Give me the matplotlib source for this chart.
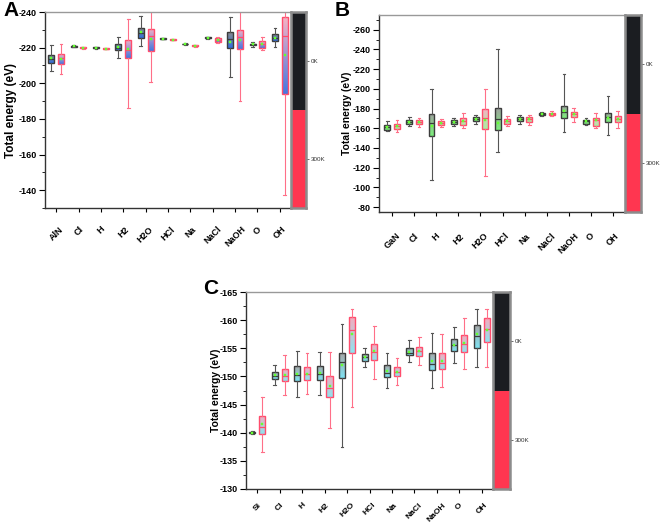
import numpy as np
import matplotlib
matplotlib.use("Agg")
import matplotlib.pyplot as plt
from matplotlib.colors import to_rgba
from matplotlib.ticker import MultipleLocator

plt.rcParams['font.family'] = ['Liberation Sans', 'DejaVu Sans']
plt.rcParams['axes.unicode_minus'] = False

# ---------------- data: (whisker low, Q1, median, Q3, whisker high, mean) ----------------
cats_A = ["AlN", "Cl", "H", "H2", "H2O", "HCl", "Na", "NaCl", "NaOH", "O", "OH"]
cats_B = ["GaN", "Cl", "H", "H2", "H2O", "HCl", "Na", "NaCl", "NaOH", "O", "OH"]
cats_C = ["Si", "Cl", "H", "H2", "H2O", "HCl", "Na", "NaCl", "NaOH", "O", "OH"]

A_0K = [(-221.3, -215.7, -213.9, -211.5, -207.0, -214.0),
        (-221.3, -221.0, -220.8, -220.6, -220.3, -220.8),
        (-220.5, -220.2, -220.0, -219.8, -219.5, -220.0),
        (-226.0, -221.9, -220.0, -218.5, -214.4, -220.5),
        (-238.0, -231.2, -228.0, -225.6, -221.0, -228.5),
        (-225.6, -225.3, -225.1, -224.9, -224.6, -225.1),
        (-222.4, -222.2, -222.0, -221.8, -221.6, -222.0),
        (-225.9, -225.7, -225.5, -225.3, -225.1, -225.5),
        (-237.2, -228.8, -225.0, -219.9, -203.6, -223.2),
        (-223.0, -222.3, -221.8, -221.2, -220.4, -221.8),
        (-231.3, -227.5, -225.6, -223.6, -220.4, -225.5)]
A_300K = [(-222.3, -216.3, -214.0, -211.0, -205.0, -213.8),
          (-220.3, -220.1, -219.9, -219.7, -219.5, -219.9),
          (-220.0, -219.8, -219.5, -219.2, -219.0, -219.5),
          (-236.0, -224.5, -218.5, -214.3, -186.0, -219.0),
          (-242.0, -230.7, -226.6, -218.2, -200.6, -225.1),
          (-224.9, -224.7, -224.5, -224.3, -224.1, -224.5),
          (-221.4, -221.2, -221.0, -220.8, -220.6, -221.0),
          (-226.0, -225.5, -224.5, -223.4, -222.6, -224.5),
          (-242.0, -229.8, -226.0, -219.0, -190.2, -224.5),
          (-225.7, -223.6, -221.8, -219.9, -218.6, -221.8),
          (-242.0, -237.2, -226.4, -194.0, -137.4, -215.8)]

B_0K = [(-167.0, -163.6, -161.5, -158.5, -156.8, -161.5),
        (-171.4, -168.7, -166.5, -164.3, -162.0, -166.5),
        (-199.8, -174.8, -165.3, -151.7, -107.8, -162.0),
        (-170.4, -168.0, -166.0, -164.6, -162.0, -166.0),
        (-173.7, -171.4, -169.5, -167.0, -164.6, -169.5),
        (-240.4, -180.5, -169.7, -158.5, -135.5, -165.0),
        (-173.7, -171.4, -169.3, -167.0, -164.6, -169.3),
        (-177.0, -176.0, -175.0, -173.7, -172.7, -175.0),
        (-215.3, -182.9, -177.0, -170.4, -156.1, -177.5),
        (-170.4, -168.7, -167.0, -164.6, -163.0, -167.0),
        (-193.0, -175.4, -171.0, -166.0, -153.4, -170.0)]
B_300K = [(-168.7, -164.3, -162.0, -159.2, -155.8, -162.0),
          (-170.4, -168.0, -166.0, -164.3, -161.2, -166.0),
          (-169.7, -167.0, -165.0, -163.0, -161.0, -165.0),
          (-175.4, -170.4, -167.0, -163.6, -160.2, -167.0),
          (-199.8, -179.5, -170.4, -159.2, -111.2, -168.5),
          (-172.7, -169.3, -167.0, -164.6, -162.0, -167.0),
          (-173.7, -171.4, -169.0, -166.3, -163.6, -169.0),
          (-177.8, -176.0, -175.0, -173.0, -172.0, -175.0),
          (-180.5, -177.0, -174.5, -171.4, -166.0, -174.5),
          (-175.4, -170.4, -168.0, -162.6, -160.2, -168.0),
          (-177.8, -172.7, -169.5, -166.0, -160.2, -169.5)]

C_0K = [(-140.3, -140.1, -140.0, -139.9, -139.8, -140.0),
        (-152.0, -150.7, -150.0, -149.5, -148.4, -150.2),
        (-154.5, -151.8, -150.2, -149.2, -146.4, -150.4),
        (-154.4, -151.8, -150.5, -149.3, -146.7, -150.6),
        (-159.4, -154.2, -152.6, -149.8, -137.5, -152.0),
        (-155.1, -153.9, -153.4, -152.8, -151.7, -153.4),
        (-154.2, -152.0, -150.6, -149.9, -147.9, -151.0),
        (-156.4, -155.0, -154.2, -153.8, -152.5, -154.4),
        (-157.7, -154.1, -152.2, -151.1, -148.0, -152.8),
        (-158.8, -156.7, -155.5, -154.5, -152.3, -155.5),
        (-161.9, -159.1, -157.1, -155.1, -151.7, -157.5)]
C_300K = [(-146.4, -142.9, -141.0, -139.7, -136.6, -141.5),
          (-153.8, -151.3, -150.0, -149.2, -146.7, -150.3),
          (-154.1, -151.6, -150.4, -149.3, -146.8, -150.5),
          (-154.4, -150.1, -147.9, -146.3, -140.8, -148.3),
          (-161.9, -160.6, -158.3, -154.2, -144.6, -157.5),
          (-158.9, -155.7, -154.4, -152.9, -149.6, -154.5),
          (-153.2, -151.6, -150.7, -150.0, -148.4, -150.8),
          (-157.0, -155.2, -154.5, -153.6, -152.0, -154.5),
          (-157.6, -154.1, -152.4, -151.3, -148.1, -152.8),
          (-160.3, -157.3, -155.7, -154.4, -151.3, -155.9),
          (-161.9, -160.3, -158.5, -156.1, -151.7, -158.2)]

temps = ["0K", "300K"]

# ---------------- styling ----------------
W, H = 661, 523
fig = plt.figure(figsize=(W / 100, H / 100), dpi=100)


def px_axes(x0, y0, x1, y1):
    return fig.add_axes([x0 / W, 1 - y1 / H, (x1 - x0) / W, (y1 - y0) / H])


def gradient_fill(ax, patch, top_color, bottom_color):
    v = patch.get_path().vertices
    x0, x1 = v[:, 0].min(), v[:, 0].max()
    y0, y1 = v[:, 1].min(), v[:, 1].max()
    c0 = np.array(to_rgba(top_color))
    c1 = np.array(to_rgba(bottom_color))
    t = np.linspace(0, 1, 64)[:, None]
    img = (c0 * (1 - t) + c1 * t)[:, None, :]
    im = ax.imshow(img, extent=(x0, x1, y0, y1), origin='lower', aspect='auto',
                   zorder=1.5, interpolation='bilinear')
    im.set_clip_path(patch)


def draw_panel(rect, cbrect, cats, s0, s1, ylim, xlim, major, minor, fills, letter, letterpos,
               ytfs, xtfs, ylfs, ylx, xpad):
    ax = px_axes(*rect)
    n = len(cats)
    x = np.arange(n)
    styles = [("#3c3c3c", "#555555", "#3c3c3c", fills[0]),
              ("#ff4d6d", "#ff6f88", "#ff4d6d", fills[1])]
    for k, (stats_list, off) in enumerate([(s0, -0.22), (s1, 0.22)]):
        stats = []
        for lo, q1, med, q3, hi, mean in stats_list:
            stats.append(dict(whislo=lo, q1=q1, med=med, q3=q3, whishi=hi, mean=mean, fliers=[]))
        ec, wc, mc, (ctop, cbot) = styles[k]
        bp = ax.bxp(stats, positions=x + off, widths=0.27, patch_artist=True,
                    showmeans=True, showfliers=False, capwidths=0.12,
                    boxprops=dict(edgecolor=ec, facecolor='none', linewidth=1.0, zorder=2),
                    whiskerprops=dict(color=wc, linewidth=0.8),
                    capprops=dict(color=wc, linewidth=0.8),
                    medianprops=dict(color=mc, linewidth=0.9),
                    meanprops=dict(marker='s', markersize=1.8, markerfacecolor='#66ff33',
                                   markeredgecolor='#66ff33', markeredgewidth=0.3, zorder=4))
        for p in bp['boxes']:
            gradient_fill(ax, p, ctop, cbot)
    ax.set_xlim(*xlim)
    ax.set_ylim(*ylim)
    ax.set_xticks(x)
    ax.set_xticklabels(cats, rotation=45, ha='center', va='top', fontweight='bold', fontsize=xtfs)
    ax.yaxis.set_major_locator(MultipleLocator(major))
    ax.yaxis.set_minor_locator(MultipleLocator(minor))
    for lab in ax.get_yticklabels():
        lab.set_fontweight('bold')
    ax.tick_params(axis='y', which='major', direction='out', length=4, width=0.8, labelsize=ytfs, pad=2)
    ax.tick_params(axis='y', which='minor', direction='out', length=2, width=0.6)
    ax.tick_params(axis='x', which='major', direction='out', length=3, width=0.8, pad=xpad)
    for sp in ['left', 'bottom']:
        ax.spines[sp].set_color('#333333')
        ax.spines[sp].set_linewidth(1.0)
    for sp in ['top', 'right']:
        ax.spines[sp].set_color('#999999')
        ax.spines[sp].set_linewidth(1.0)
    ax.set_ylabel("Total energy (eV)", fontweight='bold', fontsize=ylfs)
    ax.yaxis.set_label_coords(ylx, 0.5)

    # temperature colour bar
    cb = px_axes(*cbrect)
    cb.bar([0, 0], [1, 1], bottom=[1, 0], width=1.0, color=['#1b1d21', '#ff3650'],
           linewidth=0)
    cb.set_xlim(-0.5, 0.5)
    cb.set_ylim(0, 2)
    cb.set_xticks([])
    cb.set_yticks([1.5, 0.5])
    cb.set_yticklabels(temps)
    cb.yaxis.tick_right()
    cb.tick_params(axis='y', length=2, width=0.5, labelsize=4.5, colors='#333333', pad=1.5)
    for sp in cb.spines.values():
        sp.set_color('#8c8c8c')
        sp.set_linewidth(1.8)

    fig.text(letterpos[0] / W, 1 - letterpos[1] / H, letter, fontsize=15,
             fontweight='bold', ha='left', va='top')
    return ax


draw_panel((45, 12, 291, 208), (291, 12, 306, 208), cats_A, A_0K, A_300K,
           (-130, -240), (-0.5, 10.5), 20, 10,
           [("#8a8a8a", "#2f6fe0"), ("#f6b3c4", "#4478e0")],
           "A", (3, 1), 6.5, 6.5, 8.5, -0.115, 9)
draw_panel((379, 15, 625, 212), (625, 15, 641, 212), cats_B, B_0K, B_300K,
           (-75, -275), (-0.6, 10.55), 20, 10,
           [("#a0a0a0", "#7cf07c"), ("#f6b3c4", "#a8f0a0")],
           "B", (335, 1), 6.5, 6.5, 7.5, -0.108, 11)
draw_panel((246, 292, 493, 489), (493, 292, 510, 489), cats_C, C_0K, C_300K,
           (-130, -165), (-0.5, 10.5), 5, 2.5,
           [("#a8a8a8", "#7fe2f2"), ("#f7aabd", "#8ee4f0")],
           "C", (203, 279), 6.5, 6.0, 7.5, -0.1, 6)

fig.savefig("out.png", dpi=100)
